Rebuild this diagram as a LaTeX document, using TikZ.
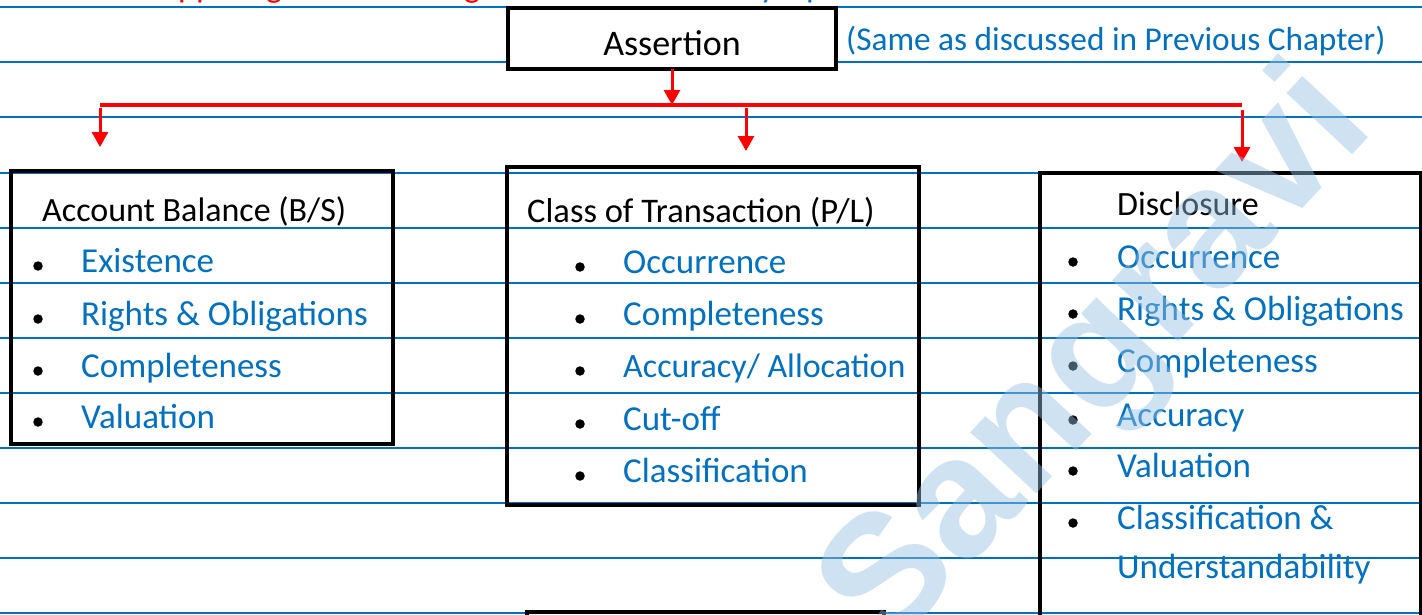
\documentclass[tikz,border=0pt]{standalone}
\usepackage{fontspec}
\setmainfont{Carlito}
\newfontfamily\wmfont{Liberation Sans}
\usetikzlibrary{arrows.meta}

\definecolor{ruleblue}{RGB}{0,112,192}
\definecolor{itemblue}{RGB}{0,112,192}
\definecolor{linkred}{RGB}{255,0,0}
\definecolor{wmblue}{RGB}{150,192,228}

\begin{document}
\begin{tikzpicture}[x=1pt,y=-1pt,
  ruleline/.style={draw=ruleblue,line width=1.6pt},
  framebox/.style={draw=black,line width=3.5pt,rectangle,inner sep=0pt,
    outer sep=0pt,anchor=north west},
  headtext/.style={anchor=base west,inner sep=0pt,text=black,
    font=\fontsize{34}{40}\selectfont},
  itemtext/.style={anchor=base west,inner sep=0pt,text=itemblue,
    font=\fontsize{35}{40}\selectfont},
  dot/.style={circle,fill=black,inner sep=0pt,minimum size=9.5pt},
  link/.style={draw=linkred,line width=3pt},
  linkarrow/.style={link,-{Triangle[width=16pt,length=15pt]}},
  topfrag/.style={anchor=base west,inner sep=0pt,
    font=\fontsize{34}{40}\selectfont}]

\clip (0,0) rectangle (1422,614);
\fill[white] (0,0) rectangle (1422,614);

% ruled paper
\foreach \ry in {7,62,117,173,228,283,338,393,448,503,558,613}
  \draw[ruleline] (0,\ry) -- (1422,\ry);

% descenders of the heading line above the page edge
\node[topfrag,text=linkred] (frag-pp) at (178,-3) {pp};
\node[topfrag,text=linkred] (frag-g1) at (266,-3) {g};
\node[topfrag,text=linkred] (frag-g2) at (464,-3) {g};
\node[topfrag,text=itemblue] (frag-y) at (760,-3) {y};
\node[topfrag,text=itemblue] (frag-p) at (806,-3) {p};

% top box
\node[framebox,fill=white,minimum width=328pt,minimum height=61pt]
  (assert) at (508,8) {};
\node[anchor=base,inner sep=0pt,font=\fontsize{36}{40}\selectfont]
  (assert-t) at (672,55) {Assertion};
\node[anchor=base west,inner sep=0pt,text=itemblue,
  font=\fontsize{33.3}{40}\selectfont]
  (note) at (846,50) {(Same as discussed in Previous Chapter)};

% three assertion groups
\node[framebox,minimum width=382pt,minimum height=273pt] (acct) at (11,171) {};
\node[framebox,minimum width=412pt,minimum height=338pt] (cot) at (507,167) {};
\node[framebox,minimum width=381pt,minimum height=500pt] (disc) at (1040,173) {};
% next box, only its top edge shows
\node[framebox,minimum width=357pt,minimum height=80pt] (nextbox) at (527,612) {};

% connectors
\coordinate (bar-l) at (100,105);
\coordinate (bar-r) at (1242,105);
\coordinate (tip-acct) at (100,147);
\coordinate (tip-cot) at (746,151);
\coordinate (start-cot) at (746,108);
\coordinate (tip-disc) at (1242,162);
\draw[linkarrow] (assert.south) -- (assert.south |- bar-l);
\draw[link,line width=4pt] (bar-l) -- (bar-r);
\draw[linkarrow] ([yshift=-3pt]bar-l) -- (tip-acct);
\draw[linkarrow] (start-cot) -- (tip-cot);
\draw[linkarrow] ([yshift=-5pt]bar-r) -- (tip-disc);

% Account Balance
\node[headtext] (acct-h) at (42,221) {Account Balance (B/S)};
\foreach \n/\by/\txt in {1/272/{Existence},2/325/{Rights \& Obligations},
    3/377/{Completeness},4/428/{Valuation}}{
  \node[dot] (acct-b\n) at (38,\by-6) {};
  \node[itemtext] (acct-i\n) at (81,\by) {\txt};
}

% Class of Transaction
\node[headtext,font=\fontsize{34.5}{40}\selectfont] (cot-h) at (527,222)
  {Class of Transaction (P/L)};
\foreach \n/\by/\txt in {1/273/{Occurrence},2/325/{Completeness},
    3/377/{\fontsize{34}{40}\selectfont Accuracy/ Allocation},
    4/430/{Cut-off},5/482/{Classification}}{
  \node[dot] (cot-b\n) at (580,\by-6) {};
  \node[itemtext] (cot-i\n) at (623,\by) {\txt};
}

% Disclosure
\node[headtext] (disc-h) at (1117,215) {Disclosure};
\foreach \n/\by/\txt in {1/268/{Occurrence},2/320/{Rights \& Obligations},
    3/372/{Completeness},4/426/{Accuracy},5/477/{Valuation},
    6/529/{Classification \&}}{
  \node[dot] (disc-b\n) at (1073,\by-6) {};
  \node[itemtext] (disc-i\n) at (1117,\by) {\txt};
}
\node[itemtext] (disc-i7) at (1117,578) {Understandability};

% watermark
\node[rotate=47,text=wmblue,opacity=0.45,inner sep=0pt,
  font=\wmfont\bfseries\fontsize{170}{170}\selectfont]
  (wm) at (1100,362) {Sangravi};

\end{tikzpicture}
\end{document}
